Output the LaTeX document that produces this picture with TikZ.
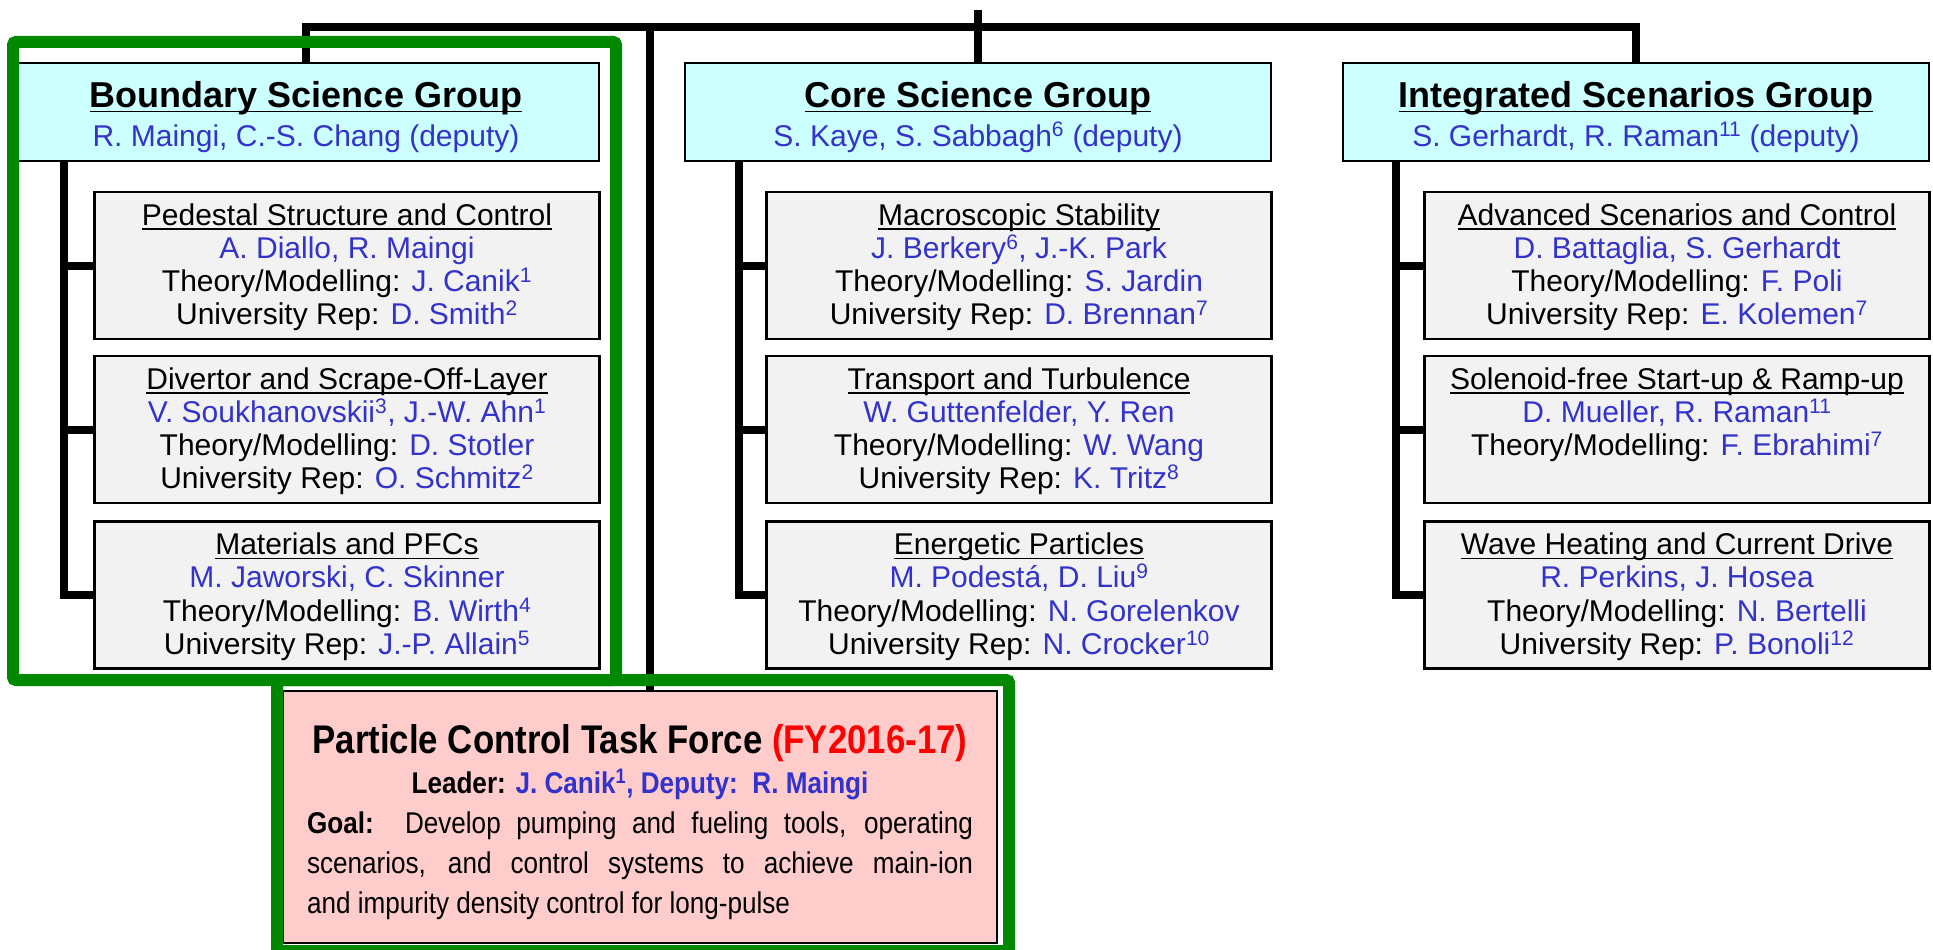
\documentclass[tikz,border=0pt]{standalone}
\usepackage{fontspec}
\setmainfont{Liberation Sans}
\newfontfamily\narrowsans{Liberation Sans}[FakeStretch=0.87]
\usepackage{xcolor}
\usepackage{tikz}

\definecolor{headcyan}{RGB}{204,255,255}
\definecolor{areagray}{RGB}{242,242,242}
\definecolor{taskpink}{RGB}{255,204,204}
\definecolor{framegreen}{RGB}{0,136,0}
\definecolor{nameblue}{RGB}{51,51,204}
\definecolor{fyred}{RGB}{255,0,0}

\newsavebox{\ulinebox}
\newcommand{\uln}[1]{\sbox{\ulinebox}{#1}\rlap{\rule[-0.15em]{\wd\ulinebox}{0.05em}}\usebox{\ulinebox}}
\newcommand{\who}[1]{\textcolor{nameblue}{#1}}
\newcommand{\grouptitle}[1]{\rule{0pt}{44pt}{\fontsize{36}{39}\selectfont\bfseries\uln{#1}}}
\newcommand{\groupend}{\rule[-15pt]{0pt}{15pt}}
\newcommand{\areatitle}[1]{\rule{0pt}{33pt}\uln{#1}}
\newcommand{\areaend}{\rule[-14pt]{0pt}{14pt}}

\tikzset{
  grouphead/.style={draw=black, line width=2.5pt, fill=headcyan, minimum width=586pt,
    minimum height=98pt, inner sep=0pt, align=center, font=\fontsize{30}{39}\selectfont},
  areabox/.style={draw=black, line width=2.5pt, fill=areagray, minimum width=505pt,
    minimum height=147pt, inner sep=0pt, align=center, font=\fontsize{30}{33.33}\selectfont},
  taskbox/.style={draw=black, line width=2.5pt, fill=taskpink, minimum width=714pt,
    minimum height=252pt, inner sep=0pt, text width=666pt, align=justify,
    font=\narrowsans\fontsize{30}{40}\selectfont},
  bar/.style={line width=8pt},
  greenframe/.style={draw=framegreen, line width=12pt, rounded corners=3pt}
}

\begin{document}
\begin{tikzpicture}[x=1pt, y=-1pt]
\useasboundingbox (0,0) rectangle (1933,950);

% Group heads
\node[grouphead] (bsg) at (306,112) {\grouptitle{Boundary Science Group}\\ \who{R. Maingi, C.-S. Chang (deputy)}\groupend};
\node[grouphead] (csg) at (978,112) {\grouptitle{Core Science Group}\\ \who{S. Kaye, S. Sabbagh\textsuperscript{6} (deputy)}\groupend};
\node[grouphead] (isg) at (1636,112) {\grouptitle{Integrated Scenarios Group}\\ \who{S. Gerhardt, R. Raman\textsuperscript{11} (deputy)}\groupend};

% Topic boxes, Boundary Science Group
\node[areabox] (ped) at (347,265.5) {\areatitle{Pedestal Structure and Control}\\ \who{A. Diallo, R. Maingi}\\
  Theory/Modelling: \who{J. Canik\textsuperscript{1}}\\ University Rep: \who{D. Smith\textsuperscript{2}}\areaend};
\node[areabox] (div) at (347,429.5) {\areatitle{Divertor and Scrape-Off-Layer}\\ \who{V. Soukhanovskii\textsuperscript{3}, J.-W. Ahn\textsuperscript{1}}\\
  Theory/Modelling: \who{D. Stotler}\\ University Rep: \who{O. Schmitz\textsuperscript{2}}\areaend};
\node[areabox] (mat) at (347,595) {\areatitle{Materials and PFCs}\\ \who{M. Jaworski, C. Skinner}\\
  Theory/Modelling: \who{B. Wirth\textsuperscript{4}}\\ University Rep: \who{J.-P. Allain\textsuperscript{5}}\areaend};

% Topic boxes, Core Science Group
\node[areabox] (mhd) at (1019,265.5) {\areatitle{Macroscopic Stability}\\ \who{J. Berkery\textsuperscript{6}, J.-K. Park}\\
  Theory/Modelling: \who{S. Jardin}\\ University Rep: \who{D. Brennan\textsuperscript{7}}\areaend};
\node[areabox] (trans) at (1019,429.5) {\areatitle{Transport and Turbulence}\\ \who{W. Guttenfelder, Y. Ren}\\
  Theory/Modelling: \who{W. Wang}\\ University Rep: \who{K. Tritz\textsuperscript{8}}\areaend};
\node[areabox] (ep) at (1019,595) {\areatitle{Energetic Particles}\\ \who{M. Podestá, D. Liu\textsuperscript{9}}\\
  Theory/Modelling: \who{N. Gorelenkov}\\ University Rep: \who{N. Crocker\textsuperscript{10}}\areaend};

% Topic boxes, Integrated Scenarios Group
\node[areabox] (asc) at (1677,265.5) {\areatitle{Advanced Scenarios and Control}\\ \who{D. Battaglia, S. Gerhardt}\\
  Theory/Modelling: \who{F. Poli}\\ University Rep: \who{E. Kolemen\textsuperscript{7}}\areaend};
\node[areabox] (sfs) at (1677,429.5) {\areatitle{Solenoid-free Start-up \& Ramp-up}\\ \who{D. Mueller, R. Raman\textsuperscript{11}}\\
  Theory/Modelling: \who{F. Ebrahimi\textsuperscript{7}}\\ \areaend};
\node[areabox] (wave) at (1677,595) {\areatitle{Wave Heating and Current Drive}\\ \who{R. Perkins, J. Hosea}\\
  Theory/Modelling: \who{N. Bertelli}\\ University Rep: \who{P. Bonoli\textsuperscript{12}}\areaend};

% Task force box
\node[taskbox] (tf) at (640,817) {%
  {\centering\rule{0pt}{62pt}{\fontsize{40}{40}\selectfont\bfseries Particle Control Task Force \textcolor{fyred}{(FY2016-17)}}\par}%
  {\centering{\fontsize{30}{40}\selectfont\bfseries Leader: \who{J. Canik\textsuperscript{1}, Deputy:\ \ R. Maingi}}\par}%
  \noindent\textbf{Goal:}\ \ Develop pumping and fueling tools, operating\linebreak
  scenarios, and control systems to achieve main-ion\linebreak
  and impurity density control for long-pulse\rule[-30pt]{0pt}{30pt}\par};

% Coordinates for the top bar
\coordinate (root) at (978,10);   % top stub
\coordinate (bus) at (978,27);    % bar level
\coordinate (tfbus) at (650,27);  % drop to task force

% Top bar
\draw[bar] (root) -- (csg.north);
\draw[bar] (bsg.north) |- (bus) -| (isg.north);
\draw[bar] (tfbus) -- (tfbus |- tf.north);

% Branches, Boundary Science Group
\draw[bar] ([xshift=-29pt]ped.west |- bsg.south) |- (mat.west);
\draw[bar] ([xshift=-29pt]ped.west) -- (ped.west);
\draw[bar] ([xshift=-29pt]div.west) -- (div.west);

% Branches, Core Science Group
\draw[bar] ([xshift=-26pt]mhd.west |- csg.south) |- (ep.west);
\draw[bar] ([xshift=-26pt]mhd.west) -- (mhd.west);
\draw[bar] ([xshift=-26pt]trans.west) -- (trans.west);

% Branches, Integrated Scenarios Group
\draw[bar] ([xshift=-27pt]asc.west |- isg.south) |- (wave.west);
\draw[bar] ([xshift=-27pt]asc.west) -- (asc.west);
\draw[bar] ([xshift=-27pt]sfs.west) -- (sfs.west);

% Green frames
\draw[greenframe] (13,42) rectangle (616,680);   % Boundary group
\draw[greenframe] (277,680) rectangle (1009,951); % task force

\end{tikzpicture}
\end{document}
